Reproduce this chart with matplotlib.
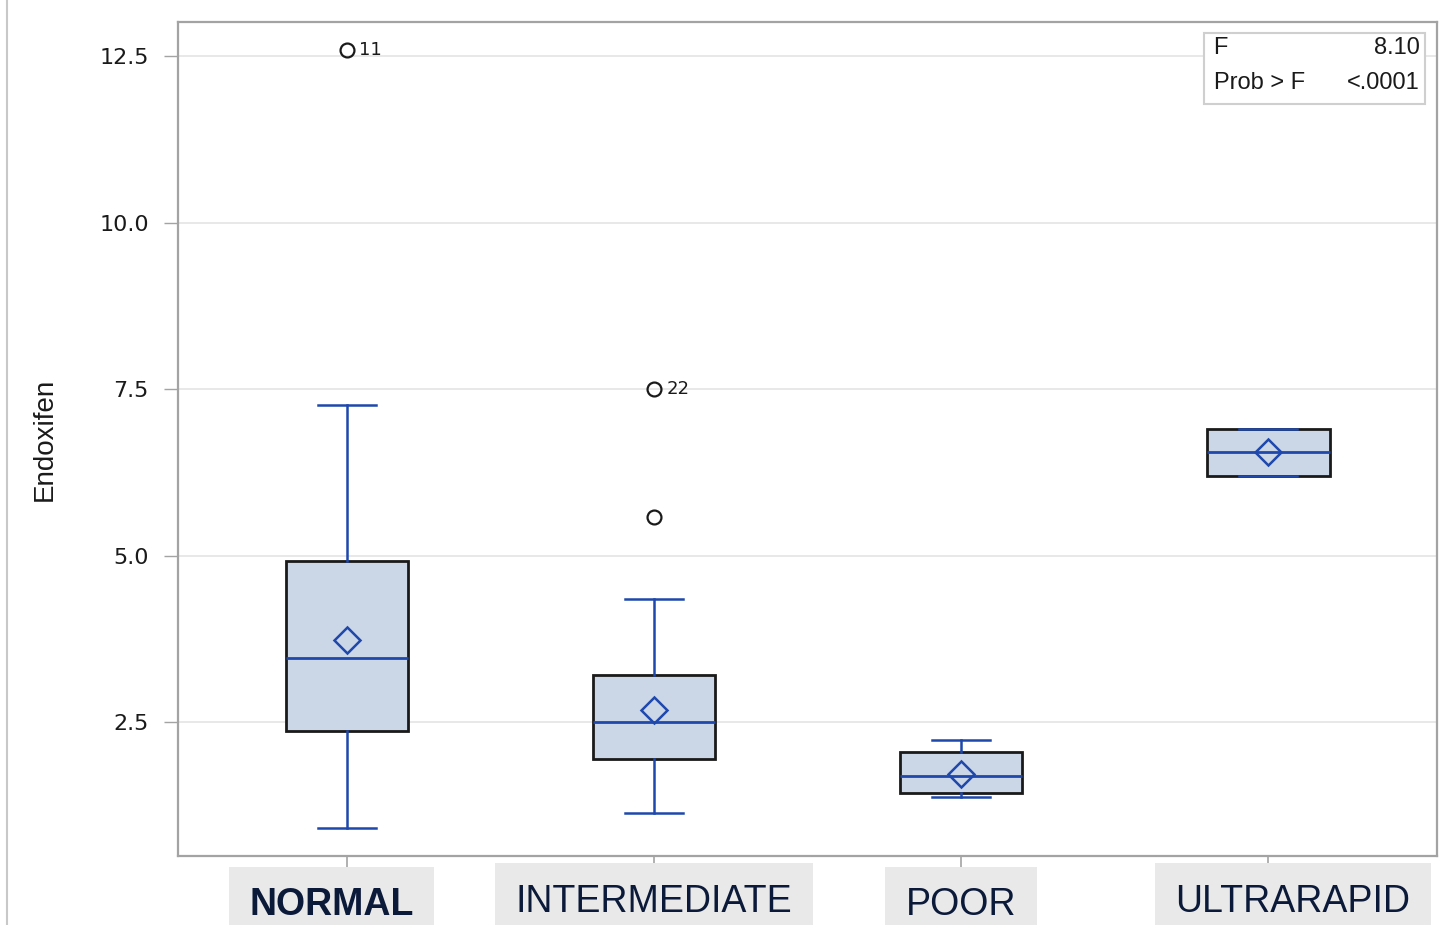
import matplotlib
matplotlib.use("Agg")
import matplotlib.pyplot as plt
from matplotlib.lines import Line2D
from matplotlib.transforms import blended_transform_factory

# Endoxifen by CYP2D6 phenotype, summary statistics per group
groups = ["NORMAL", "INTERMEDIATE", "POOR", "ULTRARAPID"]
q1 = [2.37, 1.95, 1.43, 6.19]
median = [3.46, 2.50, 1.69, 6.55]
q3 = [4.92, 3.21, 2.05, 6.90]
whis_lo = [0.91, 1.13, 1.37, 6.19]
whis_hi = [7.26, 4.35, 2.23, 6.90]
mean = [3.73, 2.68, 1.72, 6.55]
fliers = [[12.59], [7.50, 5.58], [], []]
flier_ids = [["11"], ["22", ""], [], []]

f_value = "8.10"
p_value = "<.0001"

BLUE = "#1f48ac"
FILL = "#cbd6e6"
FRAME = "#a3a3a3"
NAVY = "#0c1a3a"
INK = "#1a1a1a"

fig = plt.figure(figsize=(14.45, 9.25), dpi=100)
ax = fig.add_axes([0.1232, 0.0746, 0.8713, 0.9016])

stats = []
for i, g in enumerate(groups):
    stats.append(dict(label=g, q1=q1[i], med=median[i], q3=q3[i],
                      whislo=whis_lo[i], whishi=whis_hi[i],
                      mean=mean[i], fliers=fliers[i]))

ax.bxp(stats, positions=range(len(groups)), widths=0.4, patch_artist=True,
       showmeans=True, showfliers=True, capwidths=0.19,
       boxprops=dict(facecolor=FILL, edgecolor=INK, linewidth=2),
       medianprops=dict(color=BLUE, linewidth=2),
       whiskerprops=dict(color=BLUE, linewidth=1.8),
       capprops=dict(color=BLUE, linewidth=1.8),
       meanprops=dict(marker="D", markersize=13, markerfacecolor="none",
                      markeredgecolor=BLUE, markeredgewidth=1.8),
       flierprops=dict(marker="o", markersize=10, markerfacecolor="none",
                       markeredgecolor=INK, markeredgewidth=1.6))

# outlier id labels
for i, (vals, ids) in enumerate(zip(fliers, flier_ids)):
    for v, lab in zip(vals, ids):
        if lab:
            ax.annotate(lab, (i, v), xytext=(9, 0), textcoords="offset points",
                        va="center", ha="left", fontsize=13, color=INK)

ax.set_xlim(-0.55, 3.55)
ax.set_ylim(0.49, 13.01)
ax.set_yticks([2.5, 5.0, 7.5, 10.0, 12.5])
ax.set_yticklabels(["2.5", "5.0", "7.5", "10.0", "12.5"])
ax.set_xticks(range(len(groups)))
ax.set_xticklabels([])
ax.tick_params(axis="y", length=10, width=1, color=FRAME, pad=11,
               labelsize=16, labelcolor=INK)
ax.tick_params(axis="x", length=8, width=1.2, color=FRAME)
ax.yaxis.grid(True, color="#e4e4e4", linewidth=1.2)
ax.set_axisbelow(True)
for s in ax.spines.values():
    s.set_color(FRAME)
    s.set_linewidth(1.6)

ax.set_ylabel("Endoxifen", fontsize=20, color=INK, labelpad=30,
              family="Liberation Sans")

# ANOVA inset
inset_font = dict(transform=ax.transAxes, va="center", fontsize=17,
                  family="Liberation Sans", color=INK)
ax.text(0.8225, 0.9685, "F", ha="left", **inset_font)
ax.text(0.9865, 0.9685, f_value, ha="right", **inset_font)
ax.text(0.8225, 0.9265, "Prob > F", ha="left", **inset_font)
ax.text(0.9865, 0.9265, p_value, ha="right", **inset_font)
ax.add_patch(plt.Rectangle((0.8150, 0.902), 0.1755, 0.0845, transform=ax.transAxes,
                           facecolor="white", edgecolor="#cfcfcf", linewidth=1.5,
                           zorder=2.5))

# category labels on grey tags under the axis
label_dx = [-0.05, 0.0, 0.0, 0.08]
label_base = [0.0105, 0.0145, 0.0105, 0.0145]
label_weight = ["bold", "normal", "normal", "normal"]
trans = blended_transform_factory(ax.transData, fig.transFigure)
for i, g in enumerate(groups):
    ax.text(i + label_dx[i], label_base[i], g, transform=trans, ha="center",
            va="baseline", fontsize=27, fontweight=label_weight[i], color=NAVY,
            family="Liberation Sans", clip_on=False,
            bbox=dict(boxstyle="square,pad=0.55", facecolor="#e9e9e9",
                      edgecolor="none"))

fig.add_artist(Line2D([0.005, 0.005], [0.0, 1.0], transform=fig.transFigure,
                      color="#c8c8c8", linewidth=1.5))

fig.savefig("out.png", dpi=100)
